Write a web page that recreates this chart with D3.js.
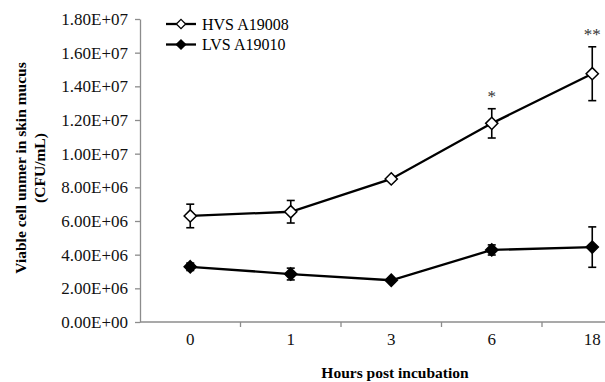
<!DOCTYPE html>
<html>
<head>
<meta charset="utf-8">
<script src="https://cdn.jsdelivr.net/npm/d3@7"></script>
<style>
  body { margin: 0; background: #fff; }
  text { font-family: "Liberation Serif", "Times New Roman", serif; }
</style>
</head>
<body>
<div id="my_dataviz"></div>
<script>
// data
var hours = ["0", "1", "3", "6", "18"];
var hvsMean = [6.3e6, 6.55e6, 8.5e6, 1.18e7, 1.475e7];
var hvsErr  = [0.7e6, 0.67e6, 0.12e6, 0.87e6, 1.6e6];
var lvsMean = [3.28e6, 2.85e6, 2.48e6, 4.28e6, 4.45e6];
var lvsErr  = [0.22e6, 0.35e6, 0.1e6, 0.3e6, 1.2e6];
var stars   = ["", "", "", "*", "**"];
var yTicks  = [0, 2e6, 4e6, 6e6, 8e6, 1e7, 1.2e7, 1.4e7, 1.6e7, 1.8e7];
var seriesNames = ["HVS A19008", "LVS A19010"];

var W = 605, H = 382;
var margin = {top: 19, left: 140, bottom: 60};
var plotH = H - margin.top - margin.bottom;

var svg = d3.select("#my_dataviz")
  .append("svg")
    .attr("width", W)
    .attr("height", H);

var x = d3.scaleBand()
  .domain(hours)
  .range([margin.left, 642.5]);

var y = d3.scaleLinear()
  .domain([0, 1.8e7])
  .range([margin.top + plotH, margin.top]);

function sci(v) {
  var s = v.toExponential(2).toUpperCase();   // 1.80E+7
  var m = s.match(/^(.*)E([+-])(\d+)$/);
  var e = m[3].length < 2 ? "0" + m[3] : m[3];
  return m[1] + "E" + m[2] + e;
}

// y axis
var yAxis = svg.append("g")
  .attr("transform", "translate(" + margin.left + ",0)")
  .call(d3.axisLeft(y).tickValues(yTicks).tickFormat(sci).tickSize(5).tickPadding(7).tickSizeOuter(0));
yAxis.selectAll("path, line").attr("stroke", "#8c8c8c").attr("stroke-width", 1.3);
yAxis.selectAll("text").attr("font-size", "17px").attr("fill", "#111")
  .style("font-family", "Liberation Serif");

// x axis - labels centred in bands, ticks between categories
var xAxis = svg.append("g")
  .attr("transform", "translate(0," + y(0) + ")")
  .call(d3.axisBottom(x).tickSize(0).tickPadding(11));
xAxis.select(".domain").remove();
xAxis.append("line")
  .attr("x1", margin.left).attr("x2", W)
  .attr("stroke", "#8c8c8c").attr("stroke-width", 1.3);
xAxis.selectAll(".sep")
  .data(hours.slice(1))
  .enter().append("line")
    .attr("class", "sep")
    .attr("x1", function(d) { return x(d); })
    .attr("x2", function(d) { return x(d); })
    .attr("y1", 0).attr("y2", 5)
    .attr("stroke", "#8c8c8c").attr("stroke-width", 1.3);
xAxis.selectAll("text").attr("font-size", "17px").attr("fill", "#111")
  .style("font-family", "Liberation Serif");

// axis titles
svg.append("text")
  .attr("x", 395).attr("y", 378)
  .attr("text-anchor", "middle")
  .attr("font-size", "15.5px").attr("font-weight", "bold")
  .text("Hours post incubation");

var yt = svg.append("text")
  .attr("transform", "translate(21,168) rotate(-90)")
  .attr("text-anchor", "middle")
  .attr("font-size", "15.5px").attr("font-weight", "bold");
yt.append("tspan").attr("x", 0).attr("dy", "0.35em").text("Viable cell unmer in skin mucus");
yt.append("tspan").attr("x", 0).attr("dy", "19px").text("(CFU/mL)");

var cx = function(i) { return x(hours[i]) + x.bandwidth() / 2; };
var diamond = d3.symbol().type(d3.symbolDiamond2).size(95);

function drawSeries(means, errs, fill) {
  var g = svg.append("g");
  // error bars
  var eb = g.selectAll(".eb").data(means).enter().append("g")
    .attr("stroke", "#000").attr("stroke-width", 1.6);
  eb.append("line")
    .attr("x1", function(d, i) { return cx(i); })
    .attr("x2", function(d, i) { return cx(i); })
    .attr("y1", function(d, i) { return y(d + errs[i]); })
    .attr("y2", function(d, i) { return y(d - errs[i]); });
  [1, -1].forEach(function(sg) {
    eb.append("line")
      .attr("x1", function(d, i) { return cx(i) - 4; })
      .attr("x2", function(d, i) { return cx(i) + 4; })
      .attr("y1", function(d, i) { return y(d + sg * errs[i]); })
      .attr("y2", function(d, i) { return y(d + sg * errs[i]); });
  });
  // the line
  g.append("path")
    .datum(means)
    .attr("fill", "none")
    .attr("stroke", "#000")
    .attr("stroke-width", 2.3)
    .attr("d", d3.line()
      .x(function(d, i) { return cx(i); })
      .y(function(d) { return y(d); }));
  // markers
  g.selectAll(".pt").data(means).enter().append("path")
    .attr("d", diamond)
    .attr("transform", function(d, i) { return "translate(" + cx(i) + "," + y(d) + ")"; })
    .attr("fill", fill)
    .attr("stroke", "#000")
    .attr("stroke-width", 1.5);
}

drawSeries(lvsMean, lvsErr, "#000");
drawSeries(hvsMean, hvsErr, "#fff");

// significance stars above HVS error bars
svg.selectAll(".star").data(stars).enter().append("text")
  .attr("x", function(d, i) { return cx(i); })
  .attr("y", function(d, i) { return y(hvsMean[i] + hvsErr[i]) - 7; })
  .attr("text-anchor", "middle")
  .attr("font-size", "17px")
  .attr("fill", "#333")
  .text(function(d) { return d; });

// legend
var fills = ["#fff", "#000"];
var lg = svg.selectAll(".lg").data(seriesNames).enter().append("g")
  .attr("transform", function(d, i) { return "translate(0," + (24 + i * 20.5) + ")"; });
lg.append("line")
  .attr("x1", 166).attr("x2", 196)
  .attr("stroke", "#000").attr("stroke-width", 2.3);
lg.append("path")
  .attr("d", d3.symbol().type(d3.symbolDiamond2).size(55))
  .attr("transform", "translate(181,0)")
  .attr("fill", function(d, i) { return fills[i]; })
  .attr("stroke", "#000").attr("stroke-width", 1.3);
lg.append("text")
  .attr("x", 202).attr("dy", "0.35em")
  .attr("font-size", "16px")
  .text(function(d) { return d; });
</script>
</body>
</html>
